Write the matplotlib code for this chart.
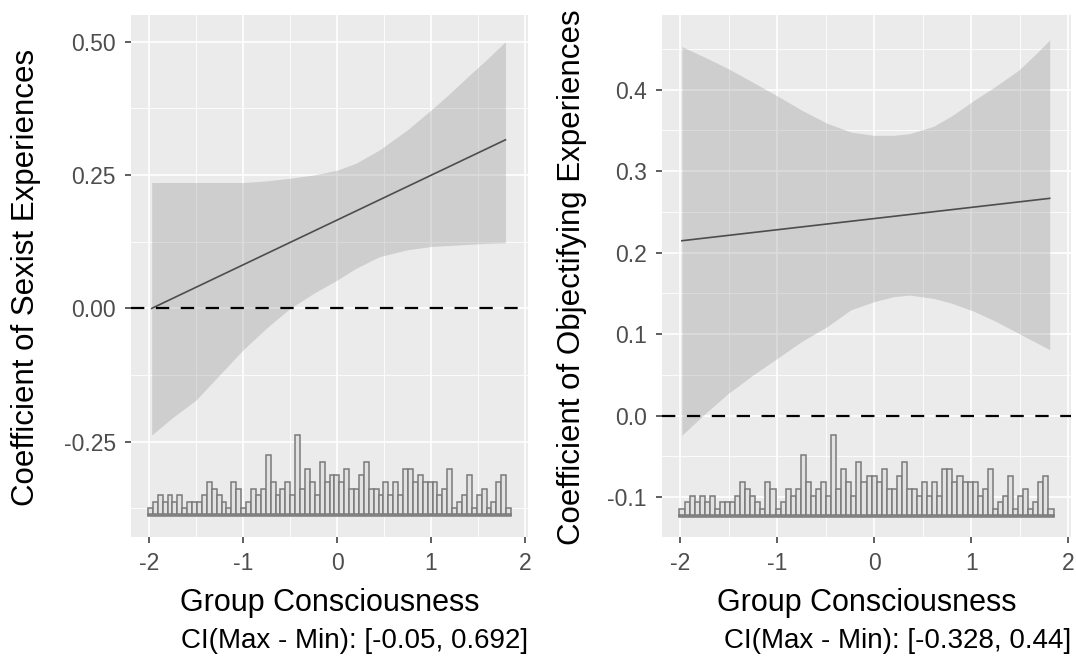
import matplotlib.pyplot as plt
import numpy as np
from matplotlib.ticker import FixedLocator

plt.rcParams['font.family'] = ['Liberation Sans', 'DejaVu Sans']
plt.rcParams['axes.unicode_minus'] = False

# counts of the moderator (group consciousness) per bin, same for both panels
hist_counts = [1, 2, 3, 2, 3, 2, 3, 1, 2, 2,
               2, 3, 5, 4, 3, 2, 1, 5, 4, 1,
               2, 4, 3, 4, 9, 5, 3, 4, 5, 3,
               12, 4, 7, 5, 3, 8, 5, 6, 6, 5,
               7, 4, 4, 6, 8, 4, 4, 3, 5, 3,
               5, 3, 7, 7, 5, 6, 5, 5, 5, 3,
               4, 7, 1, 2, 3, 6, 1, 3, 4, 1,
               2, 5, 6, 1]
hist_lo, hist_hi = -2.01, 1.85

# marginal effect of sexist experiences
sex_line_x = [-1.97, 1.79]
sex_line_y = [0.0, 0.316]
sex_ci_x = [-1.97, -1.75, -1.5, -1.25, -1.0, -0.75, -0.5, -0.25, 0.0, 0.2,
            0.45, 0.75, 1.0, 1.2, 1.4, 1.6, 1.79]
sex_ci_hi = [0.236, 0.236, 0.236, 0.236, 0.236, 0.239, 0.244, 0.25, 0.259, 0.272,
             0.297, 0.335, 0.372, 0.403, 0.436, 0.468, 0.50]
sex_ci_lo = [-0.2375, -0.205, -0.172, -0.125, -0.078, -0.037, 0.0, 0.028, 0.053, 0.075,
             0.097, 0.11, 0.116, 0.118, 0.12, 0.122, 0.123]
sex_yticks = [-0.25, 0.0, 0.25, 0.50]
sex_yticklabels = ['-0.25', '0.00', '0.25', '0.50']

# marginal effect of objectifying experiences
obj_line_x = [-1.985, 1.81]
obj_line_y = [0.2147, 0.2667]
obj_ci_x = [-1.985, -1.75, -1.51, -1.25, -0.98, -0.75, -0.49, -0.24, 0.0, 0.2,
            0.36, 0.61, 0.8, 1.03, 1.25, 1.49, 1.65, 1.81]
obj_ci_hi = [0.453, 0.440, 0.426, 0.409, 0.391, 0.375, 0.359, 0.348, 0.344, 0.344,
             0.346, 0.355, 0.368, 0.387, 0.404, 0.424, 0.442, 0.461]
obj_ci_lo = [-0.024, 0.002, 0.027, 0.050, 0.072, 0.091, 0.109, 0.130, 0.140, 0.146,
             0.148, 0.144, 0.138, 0.128, 0.116, 0.101, 0.091, 0.081]
obj_yticks = [-0.1, 0.0, 0.1, 0.2, 0.3, 0.4]
obj_yticklabels = ['-0.1', '0.0', '0.1', '0.2', '0.3', '0.4']

xticks = [-2, -1, 0, 1, 2]
xticklabels = ['-2', '-1', '0', '1', '2']
xminor = [-1.5, -0.5, 0.5, 1.5]

W, H = 1076., 656.
fig = plt.figure(figsize=(W / 100, H / 100), dpi=100)

ax1 = fig.add_axes([131 / W, 1 - 536.7 / H, 397 / W, 521.7 / H])
ax2 = fig.add_axes([662 / W, 1 - 536.7 / H, 409 / W, 521.7 / H])


def draw_panel(ax, ylim, yticks, yticklabels, yminor, line_x, line_y,
               ci_x, ci_lo, ci_hi, hist_base, hist_step):
    ax.set_facecolor('#EBEBEB')
    for s in ax.spines.values():
        s.set_visible(False)
    ax.set_xlim(-2.19, 2.03)
    ax.set_ylim(*ylim)
    ax.set_xticks(xticks)
    ax.set_xticklabels(xticklabels)
    ax.set_yticks(yticks)
    ax.set_yticklabels(yticklabels)
    ax.xaxis.set_minor_locator(FixedLocator(xminor))
    ax.yaxis.set_minor_locator(FixedLocator(yminor))
    ax.tick_params(which='major', length=4.5, width=1.1, color='#333333',
                   labelcolor='#4D4D4D', labelsize=16.5, pad=6.5)
    ax.tick_params(which='minor', length=0)
    ax.grid(which='major', color='white', lw=1.2)
    ax.grid(which='minor', color='white', lw=0.6)
    ax.set_axisbelow(True)

    ax.fill_between(ci_x, ci_lo, ci_hi, color='grey', alpha=0.27, lw=0)
    ax.plot(line_x, line_y, color='#4D4D4D', lw=1.2)
    ax.axhline(0, color='black', lw=1.6, dashes=(6, 5.2))

    # histogram of the moderator along the bottom
    counts = np.array(hist_counts)
    edges = np.linspace(hist_lo, hist_hi, len(counts) + 1)
    w = edges[1] - edges[0]
    ax.bar(edges[:-1] + w / 2, counts * hist_step, width=w, bottom=hist_base,
           color='#E2E2E2', edgecolor='#7A7A7A', lw=1.1)
    ax.bar((hist_lo + hist_hi) / 2, 0.25 * hist_step, width=hist_hi - hist_lo,
           bottom=hist_base - 0.15 * hist_step, color='#9A9A9A',
           edgecolor='#7A7A7A', lw=1.1)


draw_panel(ax1, (-0.428, 0.55), sex_yticks, sex_yticklabels,
           [-0.375, -0.125, 0.125, 0.375], sex_line_x, sex_line_y,
           sex_ci_x, sex_ci_lo, sex_ci_hi, -0.3876, 0.01247)
draw_panel(ax2, (-0.1485, 0.4917), obj_yticks, obj_yticklabels,
           [-0.05, 0.05, 0.15, 0.25, 0.35, 0.45], obj_line_x, obj_line_y,
           obj_ci_x, obj_ci_lo, obj_ci_hi, -0.123, 0.00825)

# axis titles and CI captions
fig.text(26 / W, 1 - 277 / H, 'Coefficient of Sexist Experiences', rotation=90,
         ha='center', va='center', fontsize=22.5)
fig.text(572 / W, 1 - 277 / H, 'Coefficient of Objectifying Experiences',
         rotation=90, ha='center', va='center', fontsize=22.5)
fig.text(329.5 / W, 1 - 603 / H, 'Group Consciousness', ha='center',
         va='center', fontsize=22)
fig.text(866.5 / W, 1 - 603 / H, 'Group Consciousness', ha='center',
         va='center', fontsize=22)
fig.text(528 / W, 1 - 641 / H, 'CI(Max - Min): [-0.05, 0.692]', ha='right',
         va='center', fontsize=20)
fig.text(1071 / W, 1 - 641 / H, 'CI(Max - Min): [-0.328, 0.44]', ha='right',
         va='center', fontsize=20)

fig.savefig('out.png', dpi=100)
